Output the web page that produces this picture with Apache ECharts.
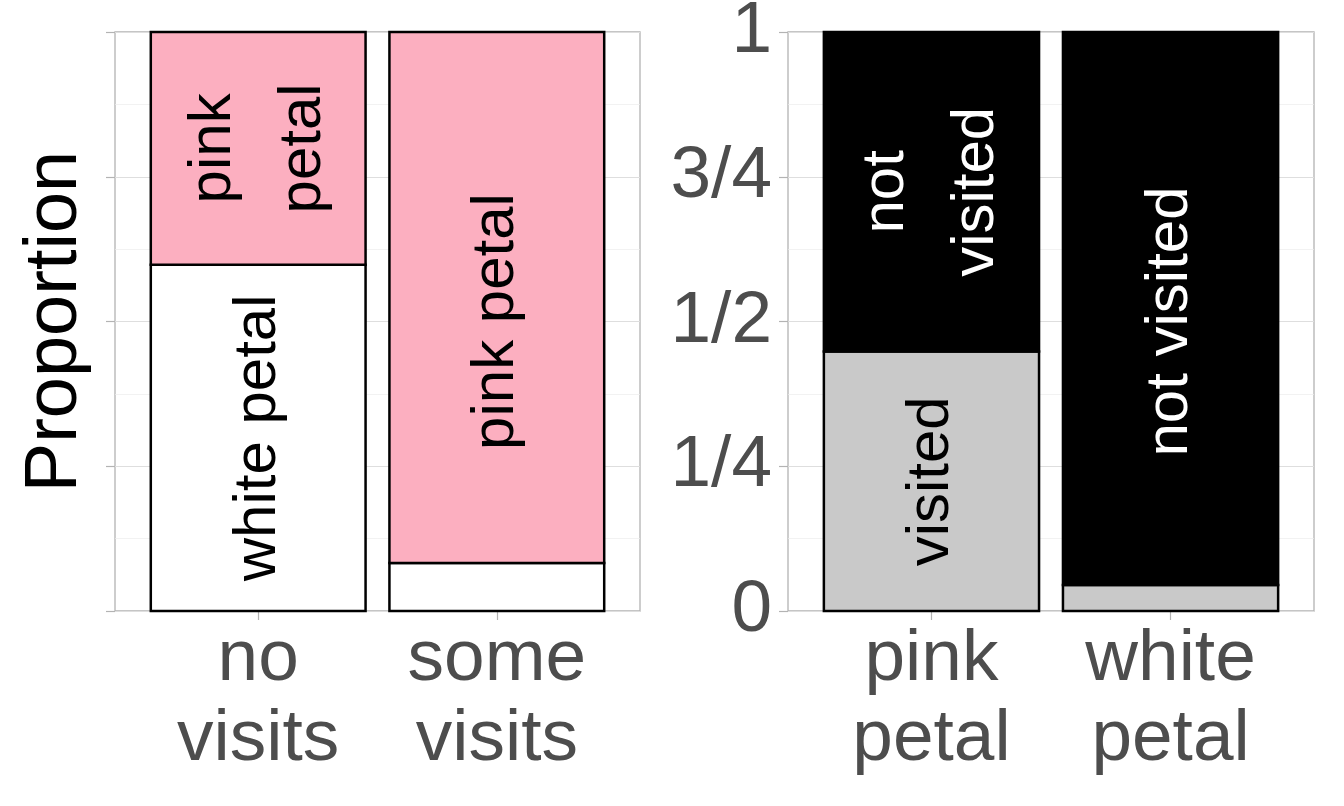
<!DOCTYPE html>
<html>
<head>
<meta charset="utf-8">
<script src="https://cdn.jsdelivr.net/npm/echarts@6/dist/echarts.min.js"></script>
<style>
  html, body { margin: 0; padding: 0; background: #fff; }
  #chart { width: 1344px; height: 806px; }
</style>
</head>
<body>
<div id="chart"></div>
<script>
// ---------- data ----------
const leftCategories = ['no\nvisits', 'some\nvisits'];
const rightCategories = ['pink\npetal', 'white\npetal'];
const yTickLabels = ['0', '1/4', '1/2', '3/4', '1'];

// left panel: petal colour proportions per visit group (bottom: white, top: pink)
const leftWhitePetal = [0.598, 0.083];
const leftPinkPetal  = [0.402, 0.917];
const leftWhiteText  = ['white petal', ''];
const leftPinkText   = ['pink\npetal', 'pink petal'];

// right panel: visit proportions per petal colour (bottom: visited, top: not visited)
const rightVisited    = [0.448, 0.045];
const rightNotVisited = [0.552, 0.955];
const rightVisitedText = ['visited', ''];
const rightNotText     = ['not\nvisited', 'not visited'];

// ---------- styling ----------
const FONT = '"Liberation Sans", Arial, Helvetica, sans-serif';
const fill = { white: '#FFFFFF', pink: '#FCAFC0', grey: '#C9C9C9', black: '#000000' };

function buildRects(bottom, top, bottomColor, topColor) {
  const out = [];
  bottom.forEach((b, i) => {
    const x = i + 1;
    out.push({ value: [x, 0, b], color: bottomColor });
    out.push({ value: [x, b, b + top[i]], color: topColor });
  });
  return out;
}
function buildLabels(bottom, top, bottomText, topText, bottomInk, topInk) {
  const out = [];
  bottom.forEach((b, i) => {
    const x = i + 1;
    const t = top[i];
    if (bottomText[i]) out.push({ value: [x, b > 0.9 ? 0.5 : b / 2], text: bottomText[i], ink: bottomInk });
    if (topText[i]) out.push({ value: [x, t > 0.9 ? 0.5 : b + t / 2], text: topText[i], ink: topInk });
  });
  return out;
}

const leftRects  = buildRects(leftWhitePetal, leftPinkPetal, fill.white, fill.pink);
const rightRects = buildRects(rightVisited, rightNotVisited, fill.grey, fill.black);
const leftLabels  = buildLabels(leftWhitePetal, leftPinkPetal, leftWhiteText, leftPinkText, '#000', '#000');
const rightLabels = buildLabels(rightVisited, rightNotVisited, rightVisitedText, rightNotText, '#000', '#fff');

function rectSeries(idx, data) {
  return {
    type: 'custom', xAxisIndex: idx, yAxisIndex: idx, clip: false, z: 3,
    data: data.map(d => d.value),
    renderItem: function (params, api) {
      const x = api.value(0), y0 = api.value(1), y1 = api.value(2);
      const p0 = api.coord([x - 0.45, y1]);
      const p1 = api.coord([x + 0.45, y0]);
      return {
        type: 'rect',
        shape: { x: p0[0], y: p0[1], width: p1[0] - p0[0], height: p1[1] - p0[1] },
        style: { fill: data[params.dataIndex].color, stroke: '#000', lineWidth: 2.5 }
      };
    }
  };
}
function labelSeries(idx, data) {
  return {
    type: 'custom', xAxisIndex: idx, yAxisIndex: idx, clip: false, z: 4,
    data: data.map(d => d.value),
    renderItem: function (params, api) {
      const p = api.coord([api.value(0), api.value(1)]);
      const d = data[params.dataIndex];
      return {
        type: 'text', x: p[0], y: p[1], rotation: Math.PI / 2,
        style: {
          text: d.text, fill: d.ink, fontSize: 60, fontFamily: FONT,
          align: 'center', verticalAlign: 'middle', lineHeight: 90
        }
      };
    }
  };
}

function xAxis(idx, cats) {
  return {
    type: 'value', gridIndex: idx, min: 0.4, max: 2.6,
    axisLine: { show: false },
    splitLine: { show: false },
    axisTick: { show: true, customValues: [1, 2], length: 9, lineStyle: { color: '#B3B3B3', width: 1.2 } },
    axisLabel: {
      show: true, customValues: [1, 2], margin: 9,
      formatter: v => cats[Math.round(v) - 1],
      fontSize: 73, lineHeight: 80, color: '#4D4D4D', fontFamily: FONT
    }
  };
}
function yAxis(idx, showLabels, name) {
  return {
    type: 'value', gridIndex: idx, min: 0, max: 1, interval: 0.25,
    name: name, nameLocation: 'middle', nameGap: 22, nameRotate: 90,
    nameTextStyle: { fontSize: 74, color: '#000', fontFamily: FONT },
    axisLine: { show: false },
    axisTick: { show: true, length: 9, lineStyle: { color: '#B3B3B3', width: 1.2 } },
    axisLabel: {
      show: showLabels, margin: 16,
      formatter: v => yTickLabels[Math.round(v * 4)],
      fontSize: 73, color: '#4D4D4D', fontFamily: FONT
    },
    splitLine: { show: true, lineStyle: { color: '#DEDEDE', width: 1.2 } },
    minorTick: { show: false, splitNumber: 2 },
    minorSplitLine: { show: true, lineStyle: { color: '#EDEDED', width: 0.7 } }
  };
}

const chart = echarts.init(document.getElementById('chart'), null, { renderer: 'canvas' });
chart.setOption({
  backgroundColor: '#FFFFFF',
  animation: false,
  grid: [
    { left: 115, right: 704, top: 32, bottom: 195, show: true, borderColor: '#B3B3B3', borderWidth: 1.3, backgroundColor: 'transparent', containLabel: false, outerBoundsMode: 'none' },
    { left: 788, right: 30, top: 32, bottom: 195, show: true, borderColor: '#B3B3B3', borderWidth: 1.3, backgroundColor: 'transparent', containLabel: false, outerBoundsMode: 'none' }
  ],
  xAxis: [xAxis(0, leftCategories), xAxis(1, rightCategories)],
  yAxis: [yAxis(0, false, 'Proportion'), yAxis(1, true, '')],
  series: [
    rectSeries(0, leftRects), labelSeries(0, leftLabels),
    rectSeries(1, rightRects), labelSeries(1, rightLabels)
  ]
});
</script>
</body>
</html>
